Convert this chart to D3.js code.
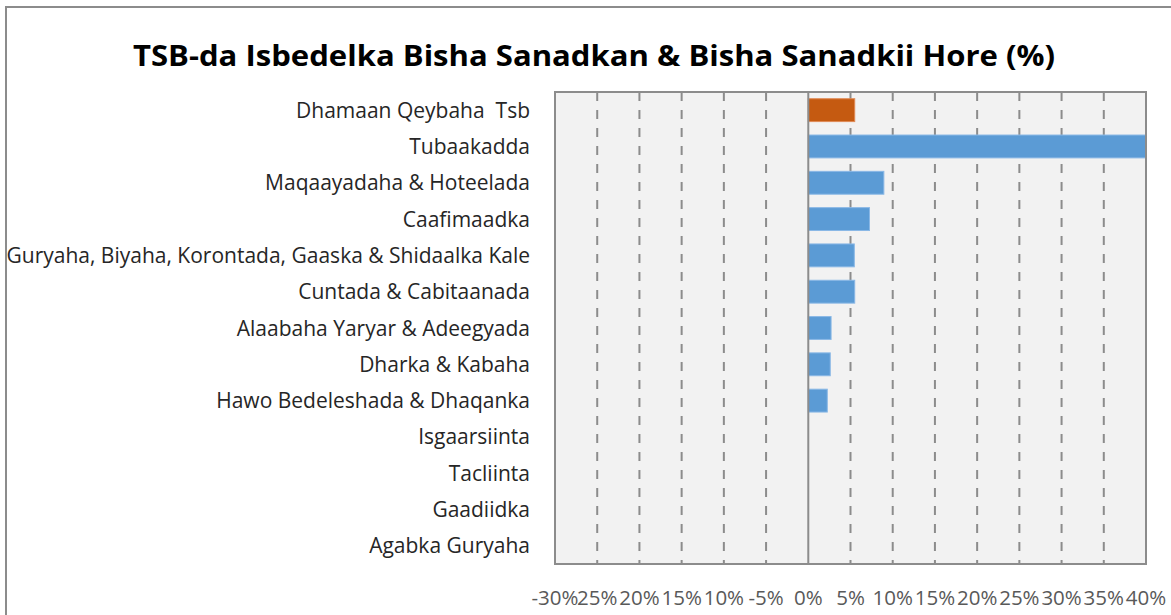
<!doctype html>
<html lang="so">
<head>
<meta charset="UTF-8" />
<title>TSB-da Isbedelka</title>
<script src="https://cdn.jsdelivr.net/npm/d3@7"></script>
<style>
  body { margin: 0; background: #fff; }
  svg text { font-family: "Open Sans", sans-serif; white-space: pre; }
</style>
</head>
<body>
<svg id="chart" width="1171" height="615"></svg>
<script>
// categories, top to bottom
const categories = [
  "Dhamaan Qeybaha  Tsb",
  "Tubaakadda",
  "Maqaayadaha & Hoteelada",
  "Caafimaadka",
  "Guryaha, Biyaha, Korontada, Gaaska & Shidaalka Kale",
  "Cuntada & Cabitaanada",
  "Alaabaha Yaryar & Adeegyada",
  "Dharka & Kabaha",
  "Hawo Bedeleshada & Dhaqanka",
  "Isgaarsiinta",
  "Tacliinta",
  "Gaadiidka",
  "Agabka Guryaha"
];
// percentage change (fraction)
const values = [0.055, 0.42, 0.0895, 0.0725, 0.0545, 0.055, 0.027, 0.026, 0.0225, 0, 0, 0, 0];
const tickValues = [-0.30, -0.25, -0.20, -0.15, -0.10, -0.05, 0, 0.05, 0.10, 0.15, 0.20, 0.25, 0.30, 0.35, 0.40];
// labels as they show on the axis (overlapping minus signs are hidden)
const tickLabels = ["-30%", "25%", "20%", "15%", "10%", "-5%", "0%", "5%", "10%", "15%", "20%", "25%", "30%", "35%", "40%"];

const svg = d3.select("#chart");
const W = 1171, H = 615;
const plot = { left: 555, right: 1146, top: 92, bottom: 564 };

// outer chart frame (runs past the picture edge)
svg.append("rect")
  .attr("x", 6).attr("y", 7).attr("width", W + 20).attr("height", H + 20)
  .attr("fill", "#fff").attr("stroke", "#8c8c8c").attr("stroke-width", 2);

const x = d3.scaleLinear().domain([-0.30, 0.40]).range([plot.left, plot.right]);
const y = d3.scaleBand().domain(categories).range([plot.top, plot.bottom]).paddingInner(0.37).paddingOuter(0.185);

svg.append("text")
  .attr("x", 594).attr("y", 66)
  .attr("text-anchor", "middle")
  .attr("font-size", 29).attr("font-weight", "bold").attr("fill", "#000")
  .attr("textLength", 922).attr("lengthAdjust", "spacingAndGlyphs")
  .text("TSB-da Isbedelka Bisha Sanadkan & Bisha Sanadkii Hore (%)");

svg.append("defs").append("clipPath").attr("id", "clip")
  .append("rect")
  .attr("x", plot.left).attr("y", plot.top)
  .attr("width", plot.right - plot.left).attr("height", plot.bottom - plot.top);

svg.append("rect")
  .attr("x", plot.left).attr("y", plot.top)
  .attr("width", plot.right - plot.left).attr("height", plot.bottom - plot.top)
  .attr("fill", "#f2f2f2");

// dashed gridlines
svg.append("g")
  .selectAll("line")
  .data(tickValues.filter(d => d !== 0 && d !== -0.30 && d !== 0.40))
  .join("line")
  .attr("x1", d => x(d)).attr("x2", d => x(d))
  .attr("y1", plot.top).attr("y2", plot.bottom)
  .attr("stroke", "#8c8c8c").attr("stroke-width", 2)
  .attr("stroke-dasharray", "9,9");

// bars
svg.append("g").attr("clip-path", "url(#clip)")
  .selectAll("rect")
  .data(categories.map((c, i) => ({ c, v: values[i], i })))
  .join("rect")
  .attr("x", d => x(Math.min(0, d.v)))
  .attr("y", d => y(d.c))
  .attr("width", d => Math.abs(x(d.v) - x(0)))
  .attr("height", y.bandwidth())
  .attr("fill", d => d.i === 0 ? "#c55a11" : "#5b9bd5")
  .attr("stroke", d => d.v === 0 ? "none" : (d.i === 0 ? "#e08a55" : "#8ab8e6"))
  .attr("stroke-width", 1);

// zero line
svg.append("line")
  .attr("x1", x(0)).attr("x2", x(0))
  .attr("y1", plot.top).attr("y2", plot.bottom)
  .attr("stroke", "#8c8c8c").attr("stroke-width", 2);

// plot border
svg.append("rect")
  .attr("x", plot.left).attr("y", plot.top)
  .attr("width", plot.right - plot.left).attr("height", plot.bottom - plot.top)
  .attr("fill", "none").attr("stroke", "#8c8c8c").attr("stroke-width", 2);

// category labels
svg.append("g")
  .selectAll("text")
  .data(categories)
  .join("text")
  .attr("x", 530)
  .attr("y", d => y(d) + y.bandwidth() / 2)
  .attr("dy", "0.36em")
  .attr("text-anchor", "end")
  .attr("font-size", 21).attr("fill", "#262626")
  .text(d => d);

// x axis labels
svg.append("g")
  .selectAll("text")
  .data(tickValues)
  .join("text")
  .attr("x", d => x(d))
  .attr("y", 605)
  .attr("text-anchor", "middle")
  .attr("font-size", 20.5).attr("fill", "#595959")
  .text((d, i) => tickLabels[i]);
</script>
</body>
</html>
